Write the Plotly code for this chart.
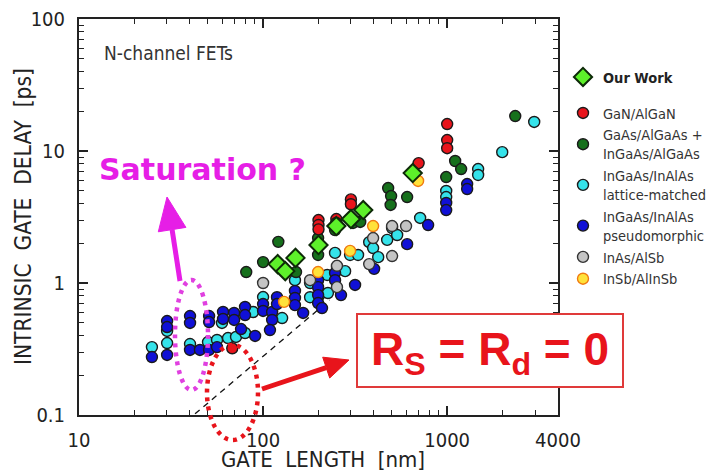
import plotly.graph_objects as go

# ---------------- data ----------------
our_x = [120, 132, 150, 200, 250, 300, 350, 650]
our_y = [1.39, 1.23, 1.55, 1.94, 2.7, 3.05, 3.57, 6.8]

gan_x = [68, 200, 200, 200, 250, 250, 300, 300, 700, 1000, 1000, 1000]
gan_y = [0.32, 3.0, 2.75, 2.55, 3.05, 2.85, 4.3, 3.95, 8.1, 16, 12.1, 10.5]

gaas_x = [81, 100, 121, 151, 199, 199, 246, 308, 337, 478, 496, 493, 606, 988, 1105, 1191, 2343]
gaas_y = [1.21, 1.44, 2.05, 1.21, 2.19, 1.63, 2.52, 2.85, 2.9, 5.24, 4.56, 3.9, 4.48, 6.35, 8.4, 7.3, 18.4]

lm_x = [24.9, 30.1, 30.1, 40.1, 50.2, 56.2, 59.8, 64.5, 71.3, 79.8, 88.2, 100, 126.9, 149, 180, 180,
        201, 225, 223, 246, 252, 279, 297, 328, 377, 396, 422, 472, 502, 535, 713, 988, 988, 1473,
        1473, 1991, 2970]
lm_y = [0.327, 0.351, 0.433, 0.345, 0.357, 0.37, 0.498, 0.383, 0.39, 0.418, 0.603, 0.783, 0.543, 1.05,
        0.78, 1.0, 0.80, 0.84, 1.15, 1.69, 1.32, 1.23, 1.63, 1.63, 2.04, 1.84, 1.57, 2.12, 2.61, 2.31,
        3.11, 4.98, 4.48, 7.3, 6.58, 9.8, 16.6]

pm_x = [24.9, 30.1, 30.1, 30.1, 40.1, 40.1, 40.1, 45.4, 50.9, 56.2, 50.9, 50.9, 60.6, 60.6, 69.6, 69.6,
        79.8, 79.8, 75.9, 90.5, 100, 100, 112, 112, 109, 119, 119, 149, 149, 149, 165, 199, 199, 199,
        199, 209, 246, 246, 265, 316, 401, 606, 788, 988, 988, 1284, 1284]
pm_y = [0.275, 0.285, 0.515, 0.464, 0.562, 0.498, 0.311, 0.311, 0.311, 0.327, 0.562, 0.506, 0.603,
        0.534, 0.593, 0.525, 0.658, 0.572, 0.448, 0.397, 0.693, 0.614, 0.603, 0.525, 0.44, 0.78, 0.693,
        0.87, 0.77, 0.68, 0.593, 1.05, 0.93, 0.81, 0.705, 0.646, 1.19, 1.05, 0.81, 0.966, 1.28, 1.97,
        2.75, 4.04, 3.57, 5.62, 5.15]

inas_x = [100, 180, 252, 252, 377, 396, 502, 598, 502]
inas_y = [1.0, 1.05, 1.35, 0.93, 1.39, 2.19, 2.7, 2.7, 1.6]

insb_x = [130, 199, 297, 396, 695]
insb_y = [0.72, 1.21, 1.75, 2.7, 5.93]

guide_x = [42.7, 230]
guide_y = [0.102, 0.744]

x_ticks = [10, 100, 1000, 4000]
x_tick_text = ["10", "100", "1000", "4000"]
y_ticks = [0.1, 1, 10, 100]
y_tick_text = ["0.1", "1", "10", "100"]
x_minor = [20, 30, 40, 50, 60, 70, 80, 90, 200, 300, 400, 500, 600, 700, 800, 900, 2000, 3000]
y_minor = [m * d for d in (0.1, 1, 10) for m in range(2, 10)]

# ---------------- geometry helpers (pixel -> paper) ----------------
W, H = 726, 474
L, R, T, B = 79, 558, 19, 415


def px(x):
    return (x - L) / (R - L)


def py(y):
    return (B - y) / (B - T)


FONT = "DejaVu Sans Condensed, DejaVu Sans, sans-serif"
OUT = "#1a1a1a"

fig = go.Figure()

fig.add_trace(go.Scatter(x=guide_x, y=guide_y, mode="lines", showlegend=False,
                         line=dict(color="#111", width=1.3, dash="6px,5px"), hoverinfo="skip"))


def pts(x, y, name, color, rank, edge=OUT, size=11, symbol="circle", lw=1.4, legend="legend"):
    fig.add_trace(go.Scatter(
        x=x, y=y, mode="markers", name=name, legendrank=rank, legend=legend,
        marker=dict(symbol=symbol, size=size, color=color, line=dict(color=edge, width=lw))))


pts(lm_x, lm_y, "InGaAs/InAlAs<br>lattice-matched", "#35e3ea", 4)
pts(pm_x, pm_y, "InGaAs/InAlAs<br>pseudomorphic", "#1010d6", 5)
pts(inas_x, inas_y, "InAs/AlSb", "#c4c4c4", 6, edge="#333")
pts(gaas_x, gaas_y, "GaAs/AlGaAs +<br>InGaAs/AlGaAs", "#16701c", 3)
pts(gan_x, gan_y, "GaN/AlGaN", "#e8141b", 2)
pts(insb_x, insb_y, "InSb/AlInSb", "#ffe23a", 7, edge="#f07a10")
pts(our_x, our_y, "<b>Our Work</b>", "#5df02a", 1, edge="#0d2a08", size=14, symbol="diamond",
    lw=2, legend="legend2")

MAG = "#e61ee6"
RED = "#e8141b"

shapes = []
# magenta dotted ellipse
shapes.append(dict(type="circle", xref="paper", yref="paper", x0=px(175), x1=px(208),
                   y0=py(390), y1=py(280), line=dict(color="#e040e0", width=4.5, dash="4px,5px"),
                   layer="above"))
# red dotted ellipse
shapes.append(dict(type="circle", xref="paper", yref="paper", x0=px(207), x1=px(258),
                   y0=py(440), y1=py(345), line=dict(color=RED, width=4.5, dash="4px,5px"),
                   layer="above"))


def arrow(tail, base, c1, c2, tip, color, width):
    shapes.append(dict(type="line", xref="paper", yref="paper", x0=px(tail[0]), y0=py(tail[1]),
                       x1=px(base[0]), y1=py(base[1]), line=dict(color=color, width=width),
                       layer="above"))
    path = "M {},{} L {},{} L {},{} Z".format(px(c1[0]), py(c1[1]), px(tip[0]), py(tip[1]),
                                              px(c2[0]), py(c2[1]))
    shapes.append(dict(type="path", xref="paper", yref="paper", path=path,
                       fillcolor=color, line=dict(color=color, width=1), layer="above"))


arrow((180, 281), (172.1, 229.6), (185.9, 227.4), (158.3, 231.8), (167, 197), MAG, 5)
arrow((262, 389), (326.2, 367.6), (329.7, 378.0), (322.7, 357.2), (349, 360), RED, 5)

# box
shapes.append(dict(type="rect", xref="paper", yref="paper", x0=px(357), x1=px(623),
                   y0=py(387), y1=py(314), line=dict(color="#e03a3a", width=2),
                   fillcolor="white", layer="above"))

annotations = [
    dict(text="N-channel FETs", xref="paper", yref="paper", x=px(102), y=py(53), xanchor="left",
         yanchor="middle", showarrow=False, font=dict(family=FONT, size=19, color="#333")),
    dict(text="<b>Saturation ?</b>", xref="paper", yref="paper", x=px(97), y=py(170),
         xanchor="left", yanchor="middle", showarrow=False,
         font=dict(family="DejaVu Sans, sans-serif", size=30, color=MAG)),
    dict(text="<b>R<sub>S</sub> = R<sub>d</sub> = 0</b>", xref="paper", yref="paper",
         x=px(490), y=py(352), xanchor="center", yanchor="middle", showarrow=False,
         font=dict(family="Liberation Sans, Arial, sans-serif", size=46, color=RED)),
    # axis titles placed as annotations for exact positioning
    dict(text="GATE\u00a0\u00a0LENGTH\u00a0\u00a0[nm]", xref="paper", yref="paper",
         x=px(323), y=py(460), xanchor="center", yanchor="middle", showarrow=False,
         borderpad=0, font=dict(family=FONT, size=22, color="#222")),
    dict(text="INTRINSIC\u00a0\u00a0GATE\u00a0\u00a0DELAY\u00a0\u00a0[ps]", xref="paper",
         yref="paper", x=px(23), y=py(217), xanchor="center", yanchor="middle",
         textangle=-90, showarrow=False, font=dict(family=FONT, size=22.5, color="#222")),
]

axis_common = dict(
    type="log", showline=True, linecolor="#222", linewidth=2, mirror="ticks",
    ticks="inside", ticklen=9, tickwidth=1.5, tickcolor="#222", showgrid=False, zeroline=False,
    tickfont=dict(family=FONT, size=20, color="#222"), automargin=False,
)

fig.update_layout(
    width=W, height=H,
    margin=dict(l=L, r=W - R, t=T, b=H - B, autoexpand=False),
    paper_bgcolor="white", plot_bgcolor="white",
    xaxis=dict(axis_common, range=[1, 3.60206], tickmode="array", tickvals=x_ticks,
               ticktext=x_tick_text, ticklabelstandoff=6,
               minor=dict(tickmode="array", tickvals=x_minor, ticks="inside", ticklen=5,
                          tickwidth=1.3, tickcolor="#222")),
    yaxis=dict(axis_common, range=[-1, 2], tickmode="array", tickvals=y_ticks,
               ticktext=y_tick_text, ticklabelstandoff=8,
               minor=dict(tickmode="array", tickvals=y_minor, ticks="inside", ticklen=5,
                          tickwidth=1.3, tickcolor="#222")),
    legend=dict(x=px(563), y=py(97), xanchor="left", yanchor="top", bgcolor="rgba(0,0,0,0)",
                font=dict(family=FONT, size=14.5, color="#333"), itemsizing="trace",
                traceorder="normal"),
    legend2=dict(x=px(563), y=py(61), xanchor="left", yanchor="top", bgcolor="rgba(0,0,0,0)",
                 font=dict(family=FONT, size=14.5, color="#222"), itemsizing="trace"),
    shapes=shapes,
    annotations=annotations,
    showlegend=True,
)

fig.write_html("out.html")
